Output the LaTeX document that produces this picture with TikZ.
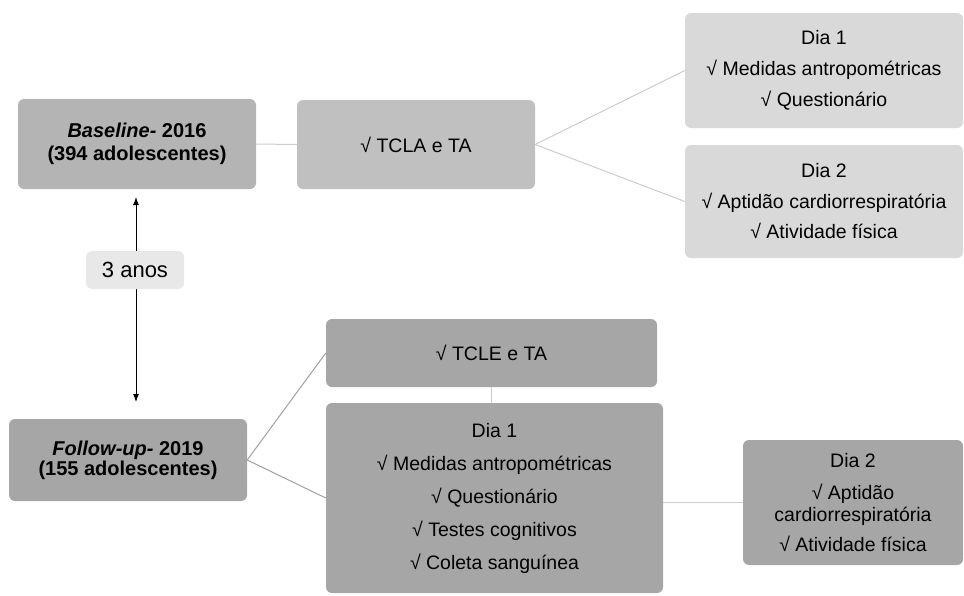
\documentclass[tikz,border=0pt]{standalone}
\usepackage{fontspec}
\setmainfont{Liberation Sans}
\usepackage{tikz}
\usetikzlibrary{arrows.meta}

\definecolor{boxA}{HTML}{B4B4B4}
\definecolor{boxB}{HTML}{C0C0C0}
\definecolor{boxC}{HTML}{D9D9D9}
\definecolor{boxD}{HTML}{A6A6A6}
\definecolor{boxE}{HTML}{E8E8E8}
\definecolor{lineA}{HTML}{CCCCCC}
\definecolor{lineB}{HTML}{A0A0A0}
\newcommand{\chk}{\char"221A\ }

\tikzset{
	box/.style={rectangle,rounded corners=6pt,inner sep=0pt,align=center,
		font=\fontsize{19.5}{22}\selectfont},
	boldbox/.style={box,font=\fontsize{20}{23}\selectfont\bfseries},
	link/.style={draw=lineA,line width=1pt},
	darklink/.style={draw=lineB,line width=1pt}
}

\begin{document}
\begin{tikzpicture}[x=1pt,y=-1pt]
		\useasboundingbox (0,0) rectangle (964,595);
		\node[boldbox,fill=boxA,minimum width=238,minimum height=90] (base) at (137,144) {\textit{Baseline-} 2016\\(394 adolescentes)};
		\node[box,fill=boxB,minimum width=238,minimum height=89] (tcla) at (416,144.5) {\chk TCLA e TA};
		\node[box,fill=boxC,minimum width=278,minimum height=115] (diaum) at (824,70.5) {Dia 1\\[9pt]\chk Medidas antropométricas\\[9pt]\chk Questionário};
		\node[box,fill=boxC,minimum width=278,minimum height=113] (diadois) at (824,201.5) {Dia 2\\[9pt]\chk Aptidão cardiorrespiratória\\[8pt]\chk Atividade física};
		\node[boldbox,fill=boxD,minimum width=238,minimum height=82,font=\fontsize{20}{20}\selectfont\bfseries] (follow) at (128,460) {\textit{Follow-up-} 2019\\(155 adolescentes)};
		\node[box,fill=boxD,minimum width=331,minimum height=68] (tcle) at (491.5,353) {\chk TCLE e TA};
		\node[box,fill=boxD,minimum width=337,minimum height=190] (diaumb) at (494.5,498) {Dia 1\\[11pt]\chk Medidas antropométricas\\[11pt]\chk Questionário\\[11pt]\chk Testes cognitivos\\[11pt]\chk Coleta sanguínea};
		\node[box,fill=boxD,minimum width=220,minimum height=125] (diadoisb) at (853,502.5) {Dia 2\\[10pt]\chk Aptidão\\cardiorrespiratória\\[8pt]\chk Atividade física};
		\coordinate (topo) at (136,197);
		\coordinate (fundo) at (136,402);
		\draw[line width=1pt,-{Latex[length=8pt,width=6pt]}] (136,270) -- (topo);
		\draw[line width=1pt,-{Latex[length=8pt,width=6pt]}] (136,270) -- (fundo);
		\node[box,fill=boxE,minimum width=98,minimum height=38,font=\fontsize{22}{22}\selectfont] (anos) at (135,270) {3 anos};
		\draw[link] (base.east) -- (tcla.west);
		\draw[link] (tcla.east) -- (diaum.west);
		\draw[link] (tcla.east) -- (diadois.west);
%		\draw[link] (tcle.south) -- (diaumb.north);
		\draw[link] (tcle.south) -- (tcle.south |- diaumb.north);
		\draw[darklink] (follow.east) -- (tcle.west);
		\draw[darklink] (follow.east) -- (diaumb.west);
		\draw[link] (diaumb.east |- diadoisb.west) -- (diadoisb.west);
	\end{tikzpicture}
\end{document}
